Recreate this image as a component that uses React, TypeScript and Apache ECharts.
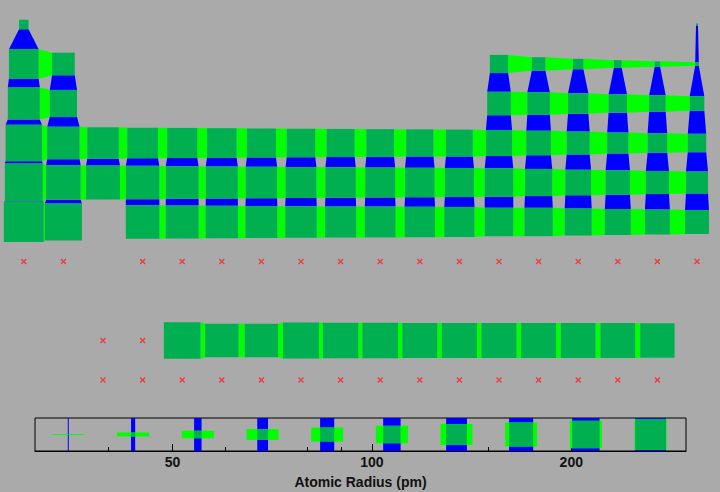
import React, { useEffect, useRef } from "react";
import * as echarts from "echarts";

// Atomic numbers 1..118, calculated atomic radius in pm (null = no data)
const symbols = [
  "H","He","Li","Be","B","C","N","O","F","Ne","Na","Mg","Al","Si","P","S","Cl","Ar",
  "K","Ca","Sc","Ti","V","Cr","Mn","Fe","Co","Ni","Cu","Zn","Ga","Ge","As","Se","Br","Kr",
  "Rb","Sr","Y","Zr","Nb","Mo","Tc","Ru","Rh","Pd","Ag","Cd","In","Sn","Sb","Te","I","Xe",
  "Cs","Ba","La","Ce","Pr","Nd","Pm","Sm","Eu","Gd","Tb","Dy","Ho","Er","Tm","Yb","Lu",
  "Hf","Ta","W","Re","Os","Ir","Pt","Au","Hg","Tl","Pb","Bi","Po","At","Rn",
  "Fr","Ra","Ac","Th","Pa","U","Np","Pu","Am","Cm","Bk","Cf","Es","Fm","Md","No","Lr",
  "Rf","Db","Sg","Bh","Hs","Mt","Ds","Rg","Cn","Nh","Fl","Mc","Lv","Ts","Og",
];

const radiiPeriod1to3: (number | null)[] = [53, 31, 167, 112, 87, 67, 56, 48, 42, 38, 190, 145, 118, 111, 98, 88, 79, 71];
const radiiPeriod4: (number | null)[] = [243, 194, 184, 176, 171, 166, 161, 156, 152, 149, 145, 142, 136, 125, 114, 103, 94, 88];
const radiiPeriod5: (number | null)[] = [265, 219, 212, 206, 198, 190, 183, 178, 173, 169, 165, 161, 156, 145, 133, 123, 115, 108];
const radiiPeriod6: (number | null)[] = [
  298, 253, null, null, 247, 206, 205, 238, 231, 233, 225, 228, 226, 226, 222, 222, 217,
  208, 200, 193, 188, 185, 180, 177, 174, 171, 156, 154, 143, 135, 127, 120,
];
const radiiPeriod7: (number | null)[] = new Array(32).fill(null);

const radii: (number | null)[] = [
  ...radiiPeriod1to3, ...radiiPeriod4, ...radiiPeriod5, ...radiiPeriod6, ...radiiPeriod7,
];

// legend (size key) sample radii, and axis ticks
const legendRadii = [34.8, 43.6, 54.6, 68.4, 85.6, 107.2, 134.2, 168, 210.4, 263.5];
const majorTicks = [50, 100, 200];
const minorTicks = [40, 60, 80, 90, 150];
const radiusMin = 31;
const radiusMax = 298;

const SQUARE = "#00b050";
const HCONN = "#00ff00";
const VCONN = "#0000ff";
const BG = "#aaaaaa";

function position(z: number): [number, number] {
  if (z === 1) return [1, 1];
  if (z === 2) return [18, 1];
  if (z <= 4) return [z - 2, 2];
  if (z <= 10) return [z + 8, 2];
  if (z <= 12) return [z - 10, 3];
  if (z <= 18) return [z, 3];
  if (z <= 36) return [z - 18, 4];
  if (z <= 54) return [z - 36, 5];
  if (z <= 56) return [z - 54, 6];
  if (z <= 71) return [z - 54, 9];
  if (z <= 86) return [z - 68, 6];
  if (z <= 88) return [z - 86, 7];
  if (z <= 103) return [z - 86, 10];
  return [z - 100, 7];
}

const K = 0.446; // column units per ln(r / rmin)

export default function App() {
  const ref = useRef<HTMLDivElement>(null);
  useEffect(() => {
    if (!ref.current) return;
    const chart = echarts.init(ref.current, undefined, { renderer: "svg" });

    const map = new Map<string, number>();
    const squares: number[][] = [];
    const crosses: number[][] = [];
    symbols.forEach((_, i) => {
      const z = i + 1;
      const [c, r] = position(z);
      const rad = radii[i];
      if (rad == null) crosses.push([c, r]);
      else {
        squares.push([c, r, rad]);
        map.set(c + "," + r, rad);
      }
    });
    const hConn: number[][] = [];
    const vConn: number[][] = [];
    squares.forEach(([c, r, rad]) => {
      const right = map.get(c + 1 + "," + r);
      if (right != null) hConn.push([c, r, rad, right]);
      const below = map.get(c + "," + (r + 1));
      if (below != null) vConn.push([c, r, rad, below]);
    });

    const px = (api: any, rad: number) =>
      Math.max(Math.abs(api.size([K * Math.log(rad / radiusMin), 0])[0]), 2);

    const vRender = (_p: any, api: any) => {
      const c = api.value(0), r = api.value(1);
      const a = api.coord([c, r]);
      const b = api.coord([c, r + 1]);
      const s1 = px(api, api.value(2));
      const s2 = px(api, api.value(3));
      return {
        type: "polygon",
        shape: {
          points: [
            [a[0] - s1 / 2, a[1] + s1 / 2],
            [a[0] + s1 / 2, a[1] + s1 / 2],
            [b[0] + s2 / 2, b[1] - s2 / 2],
            [b[0] - s2 / 2, b[1] - s2 / 2],
          ],
        },
        style: { fill: VCONN },
      };
    };
    const hRender = (_p: any, api: any) => {
      const c = api.value(0), r = api.value(1);
      const a = api.coord([c, r]);
      const b = api.coord([c + 1, r]);
      const s1 = px(api, api.value(2));
      const s2 = px(api, api.value(3));
      return {
        type: "polygon",
        shape: {
          points: [
            [a[0] + s1 / 2, a[1] - s1 / 2],
            [b[0] - s2 / 2, b[1] - s2 / 2],
            [b[0] - s2 / 2, b[1] + s2 / 2],
            [a[0] + s1 / 2, a[1] + s1 / 2],
          ],
        },
        style: { fill: HCONN },
      };
    };
    const sqRender = (_p: any, api: any) => {
      const a = api.coord([api.value(0), api.value(1)]);
      const s = px(api, api.value(2));
      return {
        type: "rect",
        shape: { x: a[0] - s / 2, y: a[1] - s / 2, width: s, height: s },
        style: { fill: SQUARE },
      };
    };
    const crossRender = (_p: any, api: any) => {
      const a = api.coord([api.value(0), api.value(1)]);
      const d = 2.5;
      const st = { stroke: "#ee3b3b", lineWidth: 1.3 };
      return {
        type: "group",
        children: [
          { type: "line", shape: { x1: a[0] - d, y1: a[1] - d, x2: a[0] + d, y2: a[1] + d }, style: st },
          { type: "line", shape: { x1: a[0] - d, y1: a[1] + d, x2: a[0] + d, y2: a[1] - d }, style: st },
        ],
      };
    };
    const legendRender = (_p: any, api: any) => {
      const a = api.coord([api.value(0), 0.5]);
      const H = Math.abs(api.size([0, 1])[1]);
      const rad = api.value(1);
      const s = Math.max(1, 14.8 * Math.log(rad / 33));
      const sh = Math.min(s, H);
      const w = 32;
      return {
        type: "group",
        children: [
          { type: "rect", shape: { x: a[0] - s / 2, y: a[1] - H / 2, width: s, height: H }, style: { fill: VCONN } },
          { type: "rect", shape: { x: a[0] - w / 2, y: a[1] - sh / 2, width: w, height: sh }, style: { fill: HCONN } },
          { type: "rect", shape: { x: a[0] - s / 2, y: a[1] - sh / 2, width: s, height: sh }, style: { fill: SQUARE } },
        ],
      };
    };

    const labelFont = {
      fontFamily: "Liberation Sans, Arial, sans-serif",
      fontWeight: "bold" as const,
      fontSize: 14,
      color: "#111",
    };
    const lmin = Math.log10(radiusMin);
    const lmax = Math.log10(radiusMax);

    chart.setOption({
      animation: false,
      backgroundColor: BG,
      grid: [
        { left: 4, top: 4.75, width: 712.8, height: 395, show: false },
        {
          left: 35, top: 418, width: 651, height: 33, show: true,
          borderColor: "#000", borderWidth: 1, backgroundColor: "transparent",
        },
      ],
      xAxis: [
        { gridIndex: 0, type: "value", min: 0.5, max: 18.5, show: false },
        {
          gridIndex: 1, type: "value", min: lmin, max: lmax, position: "bottom",
          axisLine: { show: true, onZero: false, lineStyle: { color: "#000", width: 1 } },
          axisTick: {
            show: true, inside: true, length: 7,
            customValues: majorTicks.map((v) => Math.log10(v)),
            lineStyle: { color: "#000", width: 1 },
          },
          axisLabel: {
            show: true, margin: 4,
            customValues: majorTicks.map((v) => Math.log10(v)),
            formatter: (v: number) => String(Math.round(Math.pow(10, v))),
            ...labelFont,
          },
          splitLine: { show: false },
          name: "Atomic Radius (pm)",
          nameLocation: "middle",
          nameGap: 24,
          nameTextStyle: labelFont,
        },
        {
          gridIndex: 1, type: "value", min: lmin, max: lmax, position: "bottom",
          axisLine: { show: false, onZero: false },
          axisTick: {
            show: true, inside: true, length: 4,
            customValues: minorTicks.map((v) => Math.log10(v)),
            lineStyle: { color: "#000", width: 1 },
          },
          axisLabel: { show: false },
          splitLine: { show: false },
        },
      ],
      yAxis: [
        { gridIndex: 0, type: "value", min: 0.5, max: 10.5, inverse: true, show: false },
        { gridIndex: 1, type: "value", min: 0, max: 1, show: false },
      ],
      series: [
        { type: "custom", xAxisIndex: 0, yAxisIndex: 0, data: vConn, renderItem: vRender, silent: true },
        { type: "custom", xAxisIndex: 0, yAxisIndex: 0, data: hConn, renderItem: hRender, silent: true },
        { type: "custom", xAxisIndex: 0, yAxisIndex: 0, data: squares, renderItem: sqRender, silent: true },
        { type: "custom", xAxisIndex: 0, yAxisIndex: 0, data: crosses, renderItem: crossRender, silent: true },
        {
          type: "custom", xAxisIndex: 1, yAxisIndex: 1,
          data: legendRadii.map((r) => [Math.log10(r), r]),
          renderItem: legendRender, silent: true,
        },
      ],
    });
    return () => chart.dispose();
  }, []);
  return (
    <div
      ref={ref}
      style={{ position: "fixed", left: 0, top: 0, width: 720, height: 492 }}
    />
  );
}
